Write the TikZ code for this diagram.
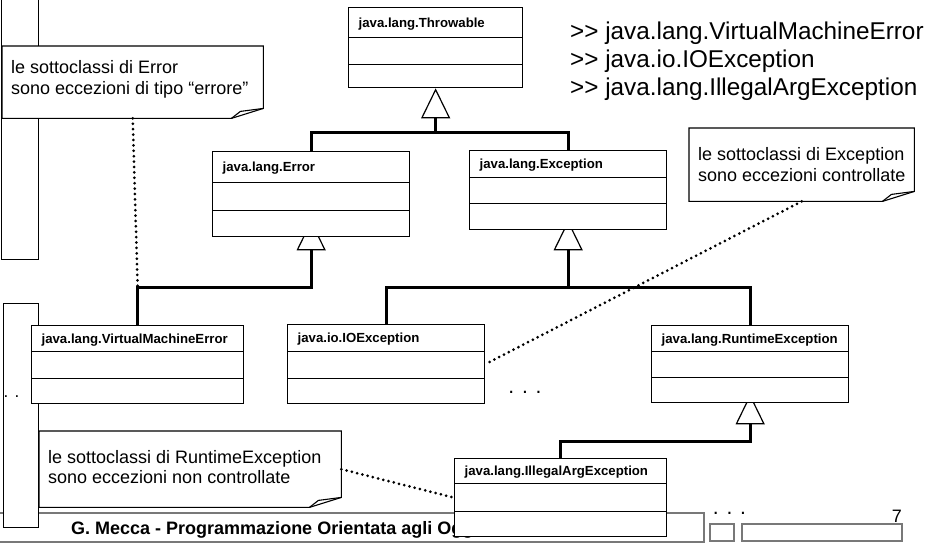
\documentclass[tikz,border=0pt]{standalone}
\usepackage{fontspec}
\setmainfont{Liberation Sans}
\usetikzlibrary{arrows.meta, positioning, shapes.multipart, backgrounds}

\definecolor{footgray}{RGB}{120,120,120}

% struts fixing the height of the rows of a class box
\newcommand{\titlestrut}[1][26pt]{\rule[\dimexpr 4.7pt-#1/2\relax]{0pt}{#1}}
\newcommand{\rowstrut}[1][27pt]{\rule{0pt}{#1}}

% outline of a note with its folded corner
\newcommand{\notefold}[1]{%
  \filldraw[fill=white, line width=1.1pt] (#1.north west) -- (#1.north east)
    -- ([yshift=10pt]#1.south east) -- ([xshift=-32pt]#1.south east)
    -- (#1.south west) -- cycle;
  \draw[line width=1.1pt] ([xshift=-32pt]#1.south east)
    -- ([xshift=-23pt,yshift=7pt]#1.south east) -- ([yshift=10pt]#1.south east);}

\tikzset{
  umlclass/.style={rectangle split, rectangle split parts=3, draw, line width=1.3pt,
    fill=white, anchor=north west, inner xsep=10pt, inner ysep=0pt, align=left,
    font=\bfseries\fontsize{13.2}{15}\selectfont},
  notebox/.style={anchor=north west, inner sep=0pt},
  notetext/.style={anchor=west, inner sep=0pt, align=left,
    font=\fontsize{18}{20.5}\selectfont},
  bar/.style={line width=3pt},
  gen/.style={line width=3pt,
    -{Triangle[length=30pt, width=29pt, fill=white, line width=1.2pt]}},
  noteline/.style={line width=3pt, line cap=round, dash pattern=on 0pt off 5.4pt},
}

\begin{document}
\begin{tikzpicture}[x=1pt, y=-1pt]
\useasboundingbox (0,0) rectangle (926,550);

% Class boxes
\node[umlclass, text width=154pt] (thr) at (348,7)
  {\titlestrut[28.7pt]java.lang.Throwable\nodepart{two}\rowstrut[25.2pt]\nodepart{three}\rowstrut[22.2pt]};
\node[umlclass, text width=177pt] (err) at (212,151)
  {\titlestrut[29.7pt]java.lang.Error\nodepart{two}\rowstrut[26.7pt]\nodepart{three}\rowstrut[24.7pt]};
\node[umlclass, text width=177pt] (exc) at (469,150)
  {\titlestrut[25.7pt]java.lang.Exception\nodepart{two}\rowstrut[24.7pt]\nodepart{three}\rowstrut[24.7pt]};
\node[umlclass, text width=192pt] (vme) at (31,325)
  {\titlestrut[24.7pt]java.lang.VirtualMachineError\nodepart{two}\rowstrut[25.7pt]\nodepart{three}\rowstrut[23.7pt]};
\node[umlclass, text width=177pt] (io) at (287,324)
  {\titlestrut[25.7pt]java.io.IOException\nodepart{two}\rowstrut[25.7pt]\nodepart{three}\rowstrut[23.7pt]};
\node[umlclass, text width=177pt] (rte) at (651,325)
  {\titlestrut[24.7pt]java.lang.RuntimeException\nodepart{two}\rowstrut[24.7pt]\nodepart{three}\rowstrut[23.7pt]};
\node[umlclass, text width=192pt] (iae) at (454,458)
  {\titlestrut[23.7pt]java.lang.IllegalArgException\nodepart{two}\rowstrut[26.7pt]\nodepart{three}\rowstrut[23.7pt]};

% Subclasses list
\node[anchor=north west, align=left, inner sep=0pt, font=\fontsize{24.3}{28}\selectfont] (sublist) at (570,22)
  {>\kern0pt> java.lang.VirtualMachineError\\>\kern0pt> java.io.IOException\\>\kern0pt> java.lang.IllegalArgException};

\begin{pgfonlayer}{background}
  % Footer
  \draw[footgray, line width=1.3pt] (-2,513) rectangle (704,542);
  \node[anchor=base west, inner sep=0pt, font=\bfseries\fontsize{18}{20}\selectfont] (footer) at (71,534)
    {G. Mecca - Programmazione Orientata agli Oggetti};
  \node[anchor=base east, inner sep=0pt, font=\fontsize{18}{20}\selectfont] (pagenum) at (902,522) {7};
  \draw[footgray, line width=1.2pt] (710,524) rectangle (734,541);
  \draw[footgray, line width=1.2pt] (742,524) rectangle (902,541);
  \node[anchor=base, inner sep=0pt, font=\fontsize{21}{21}\selectfont] (dotsfoot) at (729.5,514.5) {. . .};

  % Side bars
  \filldraw[fill=white, line width=1pt] (1,-5) rectangle (38,259);
  \filldraw[fill=white, line width=1pt] (3,303) rectangle (38,527);
  \node[anchor=base west, inner sep=0pt, font=\fontsize{17}{17}\selectfont] (dotsleft) at (3.5,397.5) {. .};
  \node[anchor=base, inner sep=0pt, font=\fontsize{21}{21}\selectfont] (dotsmid) at (525,393.5) {. . .};

  % Notes
  \node[notebox, minimum width=261pt, minimum height=72pt] (nErr) at (2,46) {};
  \notefold{nErr}
  \node[notetext, yshift=3pt] (tErr) at ([xshift=9pt]nErr.west)
    {le sottoclassi di Error\\sono eccezioni di tipo “errore”};
  \node[notebox, minimum width=225pt, minimum height=73pt] (nExc) at (689,128) {};
  \notefold{nExc}
  \node[notetext] (tExc) at ([xshift=9pt]nExc.west)
    {le sottoclassi di Exception\\sono eccezioni controllate};
  \node[notebox, minimum width=302pt, minimum height=76pt] (nRte) at (39,431) {};
  \notefold{nRte}
  \node[notetext, yshift=2pt] (tRte) at ([xshift=9pt]nRte.west)
    {le sottoclassi di RuntimeException\\sono eccezioni non controllate};

  % Generalisation connectors
  \coordinate (jErrTop) at (err.north |- 0,132);
  \coordinate (jVme) at (vme.north |- 0,287);
  \coordinate (jIo) at (io.north |- 0,287);
  \coordinate (jIae) at (iae.north |- 0,441);

  % Note links
  \draw[noteline] (nErr.south) -- (jVme);
  \draw[noteline] (nExc.south) -- (io.east);
  \draw[noteline] (nRte.east) -- (iae.west);

  \draw[gen] (err.north) -- (jErrTop) -| (thr.south);
  \draw[bar] (jErrTop) -| (exc.north);
  \draw[gen] (vme.north) -- (jVme) -| ([yshift=17pt]err.south);
  \draw[gen] (io.north) -- (jIo) -| ([yshift=10pt]exc.south);
  \draw[bar] (jIo) -| (rte.north);
  \draw[gen] (iae.north) -- (jIae) -| ([yshift=9pt]rte.south);
\end{pgfonlayer}
\end{tikzpicture}
\end{document}
